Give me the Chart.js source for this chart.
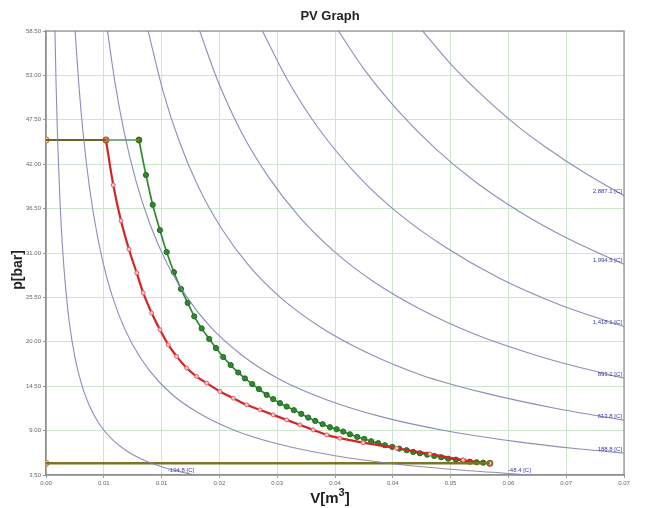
<!DOCTYPE html>
<html>
<head>
<meta charset="utf-8">
<script src="https://cdn.jsdelivr.net/npm/chart.js@4.4.1/dist/chart.umd.min.js"></script>
<style>
  html, body { margin: 0; padding: 0; background: #fff; }
  #wrap { width: 650px; height: 508px; }
</style>
</head>
<body>
<div id="wrap"><canvas id="pv" width="650" height="508"></canvas></div>
<script>
// axis ticks
const xTickLabels = ['0.00', '0.01', '0.01', '0.02', '0.03', '0.04', '0.04', '0.05', '0.06', '0.07', '0.07'];
const yTickLabels = ['3.50', '9.00', '14.50', '20.00', '25.50', '31.00', '36.50', '42.00', '47.50', '53.00', '58.50'];
const xStep = 0.0074;
const yMin = 3.5;
const yStep = 5.5;

// isotherms [V, p]
const isoLabels = ['-194.8 [C]', '-48.4 [C]', '188.8 [C]', '613.8 [C]', '893.2 [C]', '1,418.1 [C]', '1,994.5 [C]', '2,887.1 [C]'];
const isoA = [[0.00113, 59.3], [0.0013, 51.5], [0.0015, 44.7], [0.0018, 37.2], [0.0021, 31.9], [0.0025, 26.8], [0.003, 22.3], [0.0037, 18.1], [0.0045, 14.9], [0.0055, 12.2], [0.0068, 9.85], [0.0085, 7.88], [0.0105, 6.38], [0.013, 5.15], [0.016, 4.19], [0.0191, 3.5]];
const isoB = [[0.0037, 58.9], [0.0042, 51.9], [0.0048, 45.4], [0.0056, 38.9], [0.0066, 33.0], [0.0078, 27.9], [0.0093, 23.4], [0.011, 19.8], [0.0132, 16.5], [0.016, 13.6], [0.0195, 11.2], [0.024, 9.08], [0.03, 7.27], [0.037, 5.89], [0.045, 4.84], [0.053, 4.11], [0.0622, 3.5]];
const isoC = [[0.0078, 59.0], [0.0088, 52.3], [0.01, 46.0], [0.0115, 40.0], [0.0133, 34.6], [0.0155, 29.7], [0.018, 25.6], [0.021, 21.9], [0.025, 18.4], [0.03, 15.3], [0.036, 12.8], [0.043, 10.7], [0.051, 9.02], [0.06, 7.67], [0.068, 6.76], [0.074, 6.22]];
const isoD = [[0.013, 58.8], [0.015, 51.0], [0.017, 45.0], [0.0195, 39.2], [0.0225, 34.0], [0.026, 29.4], [0.03, 25.5], [0.035, 21.9], [0.041, 18.7], [0.048, 15.9], [0.056, 13.7], [0.065, 11.8], [0.074, 10.3]];
const isoE = [[0.0196, 58.7], [0.022, 52.3], [0.025, 46.0], [0.0285, 40.4], [0.0325, 35.4], [0.037, 31.1], [0.042, 27.4], [0.048, 24.0], [0.055, 20.9], [0.0625, 18.4], [0.068, 16.9], [0.074, 15.5]];
const isoF = [[0.0276, 58.7], [0.031, 52.3], [0.035, 46.3], [0.04, 40.5], [0.045, 36.0], [0.051, 31.8], [0.058, 27.9], [0.066, 24.5], [0.074, 21.9]];
const isoG = [[0.0373, 58.7], [0.041, 53.4], [0.045, 48.7], [0.05, 43.8], [0.055, 39.8], [0.061, 35.9], [0.067, 32.7], [0.074, 29.6]];
const isoH = [[0.048, 58.75], [0.052, 54.2], [0.056, 50.4], [0.06, 47.0], [0.064, 44.1], [0.069, 40.9], [0.074, 38.1]];
const isotherms = [isoA, isoB, isoC, isoD, isoE, isoF, isoG, isoH];

// process curves
const redV = [0.00768, 0.00861, 0.0096, 0.01062, 0.01161, 0.01245, 0.01353, 0.01459, 0.01565, 0.01673, 0.01801, 0.01929, 0.02057, 0.02227, 0.02397, 0.02569, 0.02739, 0.02909, 0.03081, 0.03251, 0.03421, 0.03593, 0.03763, 0.04061, 0.04489, 0.04915, 0.05341, 0.05683];
const redP = [45.0, 39.42, 34.99, 31.47, 28.54, 26.06, 23.57, 21.5, 19.64, 18.19, 16.75, 15.7, 14.88, 13.84, 13.02, 12.19, 11.57, 10.95, 10.33, 9.71, 9.09, 8.47, 8.06, 7.51, 6.81, 6.11, 5.36, 4.95];
const greenV = [0.0119, 0.0128, 0.01366, 0.01459, 0.01545, 0.01638, 0.01728, 0.01814, 0.01898, 0.01993, 0.0209, 0.02176, 0.02269, 0.02364, 0.02461, 0.02547, 0.02641, 0.02726, 0.02825, 0.02909, 0.02995, 0.03081, 0.03174, 0.03268, 0.03357, 0.03447, 0.03542, 0.03635, 0.03721, 0.03805, 0.03891, 0.03985, 0.04074, 0.04164, 0.04253, 0.04339, 0.04433, 0.04522, 0.04617, 0.04701, 0.04787, 0.04881, 0.0497, 0.0506, 0.05149, 0.05248, 0.05341, 0.05427, 0.05513, 0.05597, 0.05683];
const greenP = [45.0, 40.66, 36.98, 33.83, 31.12, 28.62, 26.55, 24.82, 23.15, 21.66, 20.35, 19.23, 18.11, 17.12, 16.2, 15.46, 14.76, 14.14, 13.43, 12.9, 12.4, 11.98, 11.53, 11.07, 10.61, 10.2, 9.79, 9.42, 9.17, 8.88, 8.55, 8.22, 7.97, 7.68, 7.44, 7.19, 6.98, 6.77, 6.57, 6.36, 6.19, 6.02, 5.86, 5.7, 5.52, 5.4, 5.28, 5.15, 5.08, 5.03, 4.95];
const pHigh = 45.0;
const pLow = 4.95;
const vEnd = 0.05683;

const font = '"Liberation Sans", Arial, sans-serif';
const pts = (vs, ps) => vs.map((v, i) => ({ x: v, y: ps[i] }));

const datasets = [];
isotherms.forEach((iso) => {
    datasets.push({
        data: iso.map(d => ({ x: d[0], y: d[1] })),
        borderColor: 'rgba(128,130,176,0.9)', borderWidth: 1.1,
        pointRadius: 0, cubicInterpolationMode: 'monotone'
    });
});
datasets.push({
    data: [{ x: 0, y: pHigh }, { x: redV[0], y: pHigh }],
    borderColor: '#6a6428', borderWidth: 2.2, pointRadius: 0
});
datasets.push({
    data: [{ x: redV[0], y: pHigh }, { x: greenV[0], y: pHigh }],
    borderColor: '#4e9a4e', borderWidth: 1.4, pointRadius: 0
});
datasets.push({
    data: [{ x: 0, y: pLow }, { x: vEnd, y: pLow }],
    borderColor: '#7c7624', borderWidth: 2.6, pointRadius: 0
});
datasets.push({
    data: pts(redV, redP),
    borderColor: '#d42424', borderWidth: 2.2, cubicInterpolationMode: 'monotone',
    pointRadius: 2, pointBackgroundColor: '#f6cccc', pointBorderColor: '#e06060', pointBorderWidth: 1
});
datasets.push({
    data: pts(greenV, greenP),
    borderColor: '#2f8a2f', borderWidth: 1.7, cubicInterpolationMode: 'monotone',
    pointRadius: 2.6, pointBackgroundColor: '#2f8a2f', pointBorderColor: '#1f6a1f', pointBorderWidth: 1
});
datasets.push({
    data: [{ x: 0, y: pHigh }, { x: greenV[0], y: pHigh }, { x: 0, y: pLow }],
    showLine: false, pointRadius: 2.8, pointBorderWidth: 1.2,
    pointBackgroundColor: '#fbe3cf', pointBorderColor: '#e0782a'
});
datasets.push({
    data: [{ x: redV[0], y: pHigh }, { x: vEnd, y: pLow }],
    showLine: false, pointRadius: 2.8, pointBorderWidth: 1.2,
    pointBackgroundColor: '#e86a2a', pointBorderColor: '#c84a1a'
});

// plot frame drawn under the data
const framePlugin = {
    id: 'frame',
    beforeDatasetsDraw(chart) {
        const { ctx, chartArea: a } = chart;
        ctx.save();
        ctx.strokeStyle = '#8e8e8e';
        ctx.lineWidth = 1.2;
        ctx.strokeRect(a.left, a.top, a.right - a.left, a.bottom - a.top);
        ctx.restore();
    }
};

const textPlugin = {
    id: 'texts',
    afterDraw(chart) {
        const { ctx, scales: { x, y } } = chart;
        ctx.save();
        ctx.fillStyle = '#222';
        ctx.textAlign = 'center';
        ctx.textBaseline = 'middle';
        ctx.font = 'bold 13px ' + font;
        ctx.fillText('PV Graph', 330, 16);

        ctx.save();
        ctx.translate(18, 270);
        ctx.rotate(-Math.PI / 2);
        ctx.font = 'bold 14px ' + font;
        ctx.fillText('p[bar]', 0, 0);
        ctx.restore();

        // V[m3] with superscript
        ctx.textAlign = 'left';
        ctx.textBaseline = 'alphabetic';
        const a = 'V[m', b = ']';
        ctx.font = 'bold 11px ' + font;
        const w3 = ctx.measureText('3').width;
        ctx.font = 'bold 15px ' + font;
        const wa = ctx.measureText(a).width, wb = ctx.measureText(b).width;
        const sx = 330 - (wa + w3 + wb) / 2;
        ctx.fillText(a, sx, 503);
        ctx.font = 'bold 11px ' + font;
        ctx.fillText('3', sx + wa, 496);
        ctx.font = 'bold 15px ' + font;
        ctx.fillText(b, sx + wa + w3, 503);

        // isotherm labels
        ctx.font = '6px ' + font;
        ctx.fillStyle = '#3a3aa6';
        ctx.textAlign = 'right';
        ctx.textBaseline = 'bottom';
        isotherms.forEach((iso, i) => {
            const last = iso[iso.length - 1];
            const px = Math.min(x.getPixelForValue(last[0]), x.right - 1);
            const py = Math.min(y.getPixelForValue(last[1]), y.bottom - 1);
            ctx.fillText(isoLabels[i], px - 1, py - 1);
        });
        ctx.restore();
    }
};

new Chart(document.getElementById('pv'), {
    type: 'scatter',
    data: { datasets },
    options: {
        responsive: false,
        animation: false,
        showLine: true,
        layout: { padding: { top: 31, right: 26, bottom: 0, left: 0 } },
        plugins: { legend: { display: false }, tooltip: { enabled: false } },
        elements: { line: { fill: false } },
        scales: {
            x: {
                type: 'linear', min: 0, max: xStep * 10,
                afterBuildTicks: s => { s.ticks = xTickLabels.map((_, i) => ({ value: i * xStep })); },
                afterFit: s => { s.height = 33; },
                ticks: { callback: (v, i) => xTickLabels[i], font: { size: 6, family: font }, color: '#666', maxRotation: 0, autoSkip: false, padding: 2 },
                grid: { color: '#cfe5d0', lineWidth: 1, tickLength: 3, tickColor: '#999' },
                border: { color: '#8e8e8e', width: 1.2 }
            },
            y: {
                type: 'linear', min: yMin, max: yMin + yStep * 10,
                afterBuildTicks: s => { s.ticks = yTickLabels.map((_, i) => ({ value: yMin + i * yStep })); },
                afterFit: s => { s.width = 46; },
                ticks: { callback: (v, i) => yTickLabels[i], font: { size: 6, family: font }, color: '#666', autoSkip: false, padding: 2 },
                grid: { color: '#cfe5d0', lineWidth: 1, tickLength: 3, tickColor: '#999' },
                border: { color: '#8e8e8e', width: 1.2 }
            }
        }
    },
    plugins: [framePlugin, textPlugin]
});
</script>
</body>
</html>
